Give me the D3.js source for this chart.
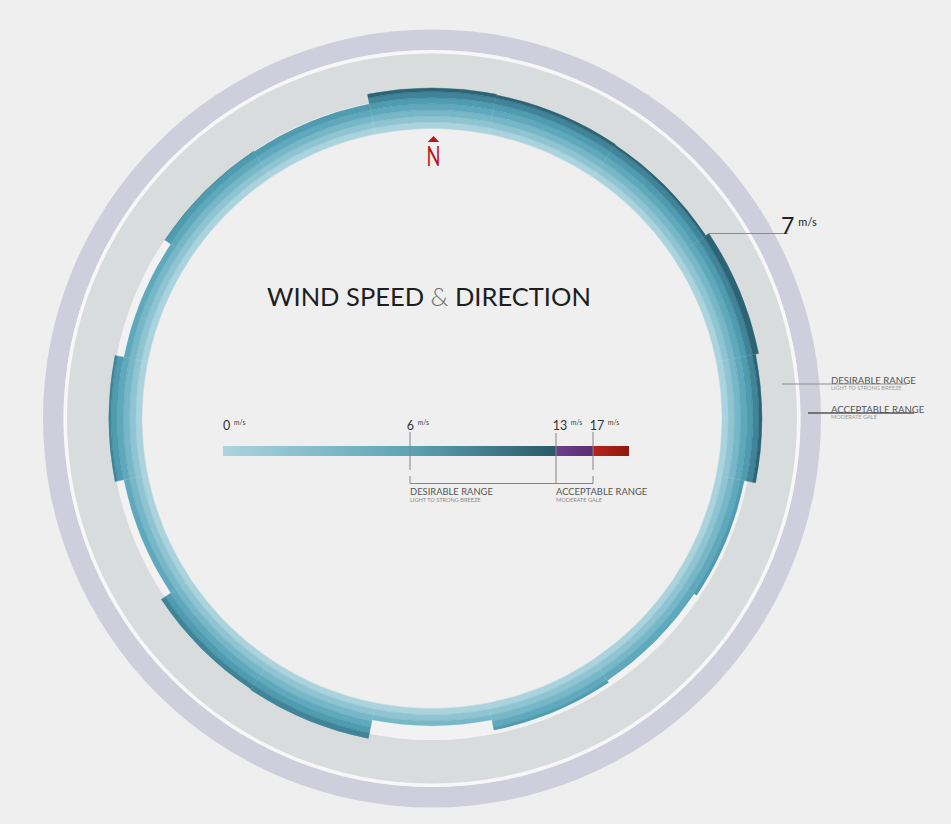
<!DOCTYPE html>
<html>
<head>
<meta charset="utf-8">
<script src="https://cdn.jsdelivr.net/npm/d3@7"></script>
<style>
  html, body { margin: 0; padding: 0; background: #efefef; }
  svg { display: block; }
  text { font-family: Lato, "Open Sans", sans-serif; }
</style>
</head>
<body>
<svg id="chart" width="951" height="824"></svg>
<script>
// ---- data ----
const directions = ["N","NNE","NE","ENE","E","ESE","SE","SSE","S","SSW","SW","WSW","W","WNW","NW","NNW"];
const speeds     = [6.6, 6.5, 6.4, 7.0, 6.5, 4.6, 4.1, 4.5, 2.8, 5.9, 5.8, 3.9, 5.4, 3.9, 5.1, 5.0];
const bandColors = ["#abd3dd","#8fc4d2","#76b7c8","#60a9bd","#4f9bb0","#3f8498","#2b6575"];
const legendTicks = [0, 6, 13, 17];
const legendDomain = [0, 6, 13, 17, 20];
const rangeTitles = ["DESIRABLE RANGE", "ACCEPTABLE RANGE"];
const rangeSubs = ["LIGHT TO STRONG BREEZE", "MODERATE GALE"];
const title = ["WIND SPEED ", "&", " DIRECTION"];
const unit = "m/s";

// ---- layout ----
const svg = d3.select("#chart");
const W = 951, H = 824;
const cx = 432, cy = 418.5;

svg.append("rect").attr("width", W).attr("height", H).attr("fill", "#efefef");

const g = svg.append("g").attr("transform", `translate(${cx},${cy})`);

// outer rings
const ring = d3.arc().startAngle(0).endAngle(2 * Math.PI);
g.append("path").attr("d", ring({innerRadius: 368.5, outerRadius: 389})).attr("fill", "#cfcedc");
g.append("path").attr("d", ring({innerRadius: 365, outerRadius: 368.5})).attr("fill", "#f7f7f7");
g.append("path").attr("d", ring({innerRadius: 321.5, outerRadius: 365})).attr("fill", "#d8dcdd");
g.append("path").attr("d", ring({innerRadius: 290, outerRadius: 321.5})).attr("fill", "#f2f2f2");

// radial scale: speed -> radius
const r = d3.scaleLinear().domain([0, 7]).range([290, 333]);
const step = 2 * Math.PI / directions.length;
const angle = d3.scaleLinear().domain([0, directions.length]).range([-step / 2, 2 * Math.PI - step / 2]);

const bands = [];
directions.forEach((d, i) => {
  const v = speeds[i];
  for (let k = 0; k < Math.ceil(v); k++) {
    bands.push({dir: d, i, k, inner: r(k), outer: r(Math.min(k + 1, v))});
  }
});

const arc = d3.arc()
  .innerRadius(d => d.inner)
  .outerRadius(d => d.outer)
  .startAngle(d => angle(d.i))
  .endAngle(d => angle(d.i + 1));

g.selectAll("path.band").data(bands).join("path")
  .attr("class", "band")
  .attr("d", arc)
  .attr("fill", d => bandColors[d.k])
  .attr("stroke", d => bandColors[d.k])
  .attr("stroke-width", 0.4);

// faint sector dividers
g.selectAll("line.div").data(directions).join("line")
  .attr("class", "div")
  .attr("x1", (d, i) => r(0) * Math.sin(angle(i)))
  .attr("y1", (d, i) => -r(0) * Math.cos(angle(i)))
  .attr("x2", (d, i) => r(Math.min(speeds[i], speeds[(i + 15) % 16])) * Math.sin(angle(i)))
  .attr("y2", (d, i) => -r(Math.min(speeds[i], speeds[(i + 15) % 16])) * Math.cos(angle(i)))
  .attr("stroke", "rgba(255,255,255,0.07)")
  .attr("stroke-width", 0.6);

// North marker
const red = "#b8141c";
g.append("path")
  .attr("d", d3.symbol().type(d3.symbolTriangle).size(36)())
  .attr("transform", `translate(1.5,-278.5) scale(1.25,0.75)`)
  .attr("fill", red);
g.append("text")
  .attr("x", 1.5).attr("y", -253)
  .attr("text-anchor", "middle")
  .attr("font-size", 26).attr("font-weight", 400)
  .attr("fill", red)
  .attr("textLength", 14).attr("lengthAdjust", "spacingAndGlyphs")
  .text(directions[0]);

// Title
const t = svg.append("text")
  .attr("x", 429).attr("y", 306)
  .attr("text-anchor", "middle")
  .attr("font-size", 25.5)
  .attr("fill", "#1e1e1e");
t.append("tspan").text(title[0]);
t.append("tspan").attr("fill", "#6f6f6f").attr("font-weight", 300).text(title[1]);
t.append("tspan").text(title[2]);

// Max annotation
const maxI = d3.maxIndex(speeds);
const maxV = speeds[maxI];
const ax = cx + r(maxV) * Math.sin(angle(maxI));
const ay = cy - r(maxV) * Math.cos(angle(maxI));
svg.append("line")
  .attr("x1", ax).attr("y1", ay).attr("x2", 788).attr("y2", ay)
  .attr("stroke", "#8a8a8a").attr("stroke-width", 1);
const mt = svg.append("text").attr("x", 781).attr("y", ay + 0.5).attr("fill", "#222");
mt.append("tspan").attr("font-size", 23).attr("font-weight", 400).text(d3.format("d")(maxV));
mt.append("tspan").attr("font-size", 11).attr("dx", 4).attr("dy", -8).text(unit);

// Right range legend
const rl = [
  {y: 384, x1: 782, x2: 907, stroke: "#8c8c8c", sw: 1},
  {y: 413, x1: 808, x2: 914, stroke: "#555", sw: 1.6}
];
rl.forEach((o, i) => {
  svg.append("text").attr("x", 831).attr("y", o.y - 0.5)
    .attr("font-size", 9.6).attr("fill", "#555").text(rangeTitles[i]);
  svg.append("text").attr("x", 831).attr("y", o.y + 6)
    .attr("font-size", 5.6).attr("fill", "#9a9a9a").text(rangeSubs[i]);
  svg.append("line").attr("x1", o.x1).attr("x2", o.x2).attr("y1", o.y).attr("y2", o.y)
    .attr("stroke", o.stroke).attr("stroke-width", o.sw);
});

// Speed legend bar
const lx = d3.scaleLinear().domain(legendDomain).range([223, 410, 556, 593, 629]);
const defs = svg.append("defs");
function grad(id, stops) {
  const gr = defs.append("linearGradient").attr("id", id).attr("x1", 0).attr("x2", 1).attr("y1", 0).attr("y2", 0);
  stops.forEach(s => gr.append("stop").attr("offset", s[0]).attr("stop-color", s[1]));
}
grad("gTeal", [[0, "#abd4de"], [0.56, "#5ea3b5"], [1, "#2a5a68"]]);
grad("gPurple", [[0, "#6f3e8a"], [1, "#5a2d75"]]);
grad("gRed", [[0, "#b8251b"], [1, "#8c1a10"]]);
const segs = [[0, 13, "gTeal"], [13, 17, "gPurple"], [17, 20, "gRed"]];
const barY = 446, barH = 10;
svg.selectAll("rect.seg").data(segs).join("rect")
  .attr("class", "seg")
  .attr("x", d => lx(d[0])).attr("width", d => lx(d[1]) - lx(d[0]))
  .attr("y", barY).attr("height", barH)
  .attr("fill", d => `url(#${d[2]})`);

// tick labels
legendTicks.forEach(v => {
  const tx = svg.append("text")
    .attr("x", Math.max(lx(v) - 3.3, lx(0)))
    .attr("y", 429.5)
    .attr("font-size", 12.5).attr("fill", "#333");
  tx.append("tspan").text(v);
  tx.append("tspan").attr("font-size", 7).attr("dx", 3.5).attr("dy", -4.5).attr("fill", "#444").text(unit);
});

// tick lines and brackets
const lc = "#858585";
[[6, 432, 470], [13, 433, 483], [17, 432, 470]].forEach(d => {
  svg.append("line").attr("x1", lx(d[0])).attr("x2", lx(d[0])).attr("y1", d[1]).attr("y2", d[2])
    .attr("stroke", lc).attr("stroke-width", 1);
});
svg.append("path")
  .attr("d", `M${lx(6)},476V483.5H${lx(17)}V476`)
  .attr("fill", "none").attr("stroke", lc).attr("stroke-width", 1);

[[6, 0], [13, 1]].forEach(d => {
  svg.append("text").attr("x", lx(d[0])).attr("y", 494.5)
    .attr("font-size", 9.4).attr("fill", "#555").text(rangeTitles[d[1]]);
  svg.append("text").attr("x", lx(d[0])).attr("y", 501.5)
    .attr("font-size", 5.6).attr("fill", "#8a8a8a").text(rangeSubs[d[1]]);
});
</script>
</body>
</html>
